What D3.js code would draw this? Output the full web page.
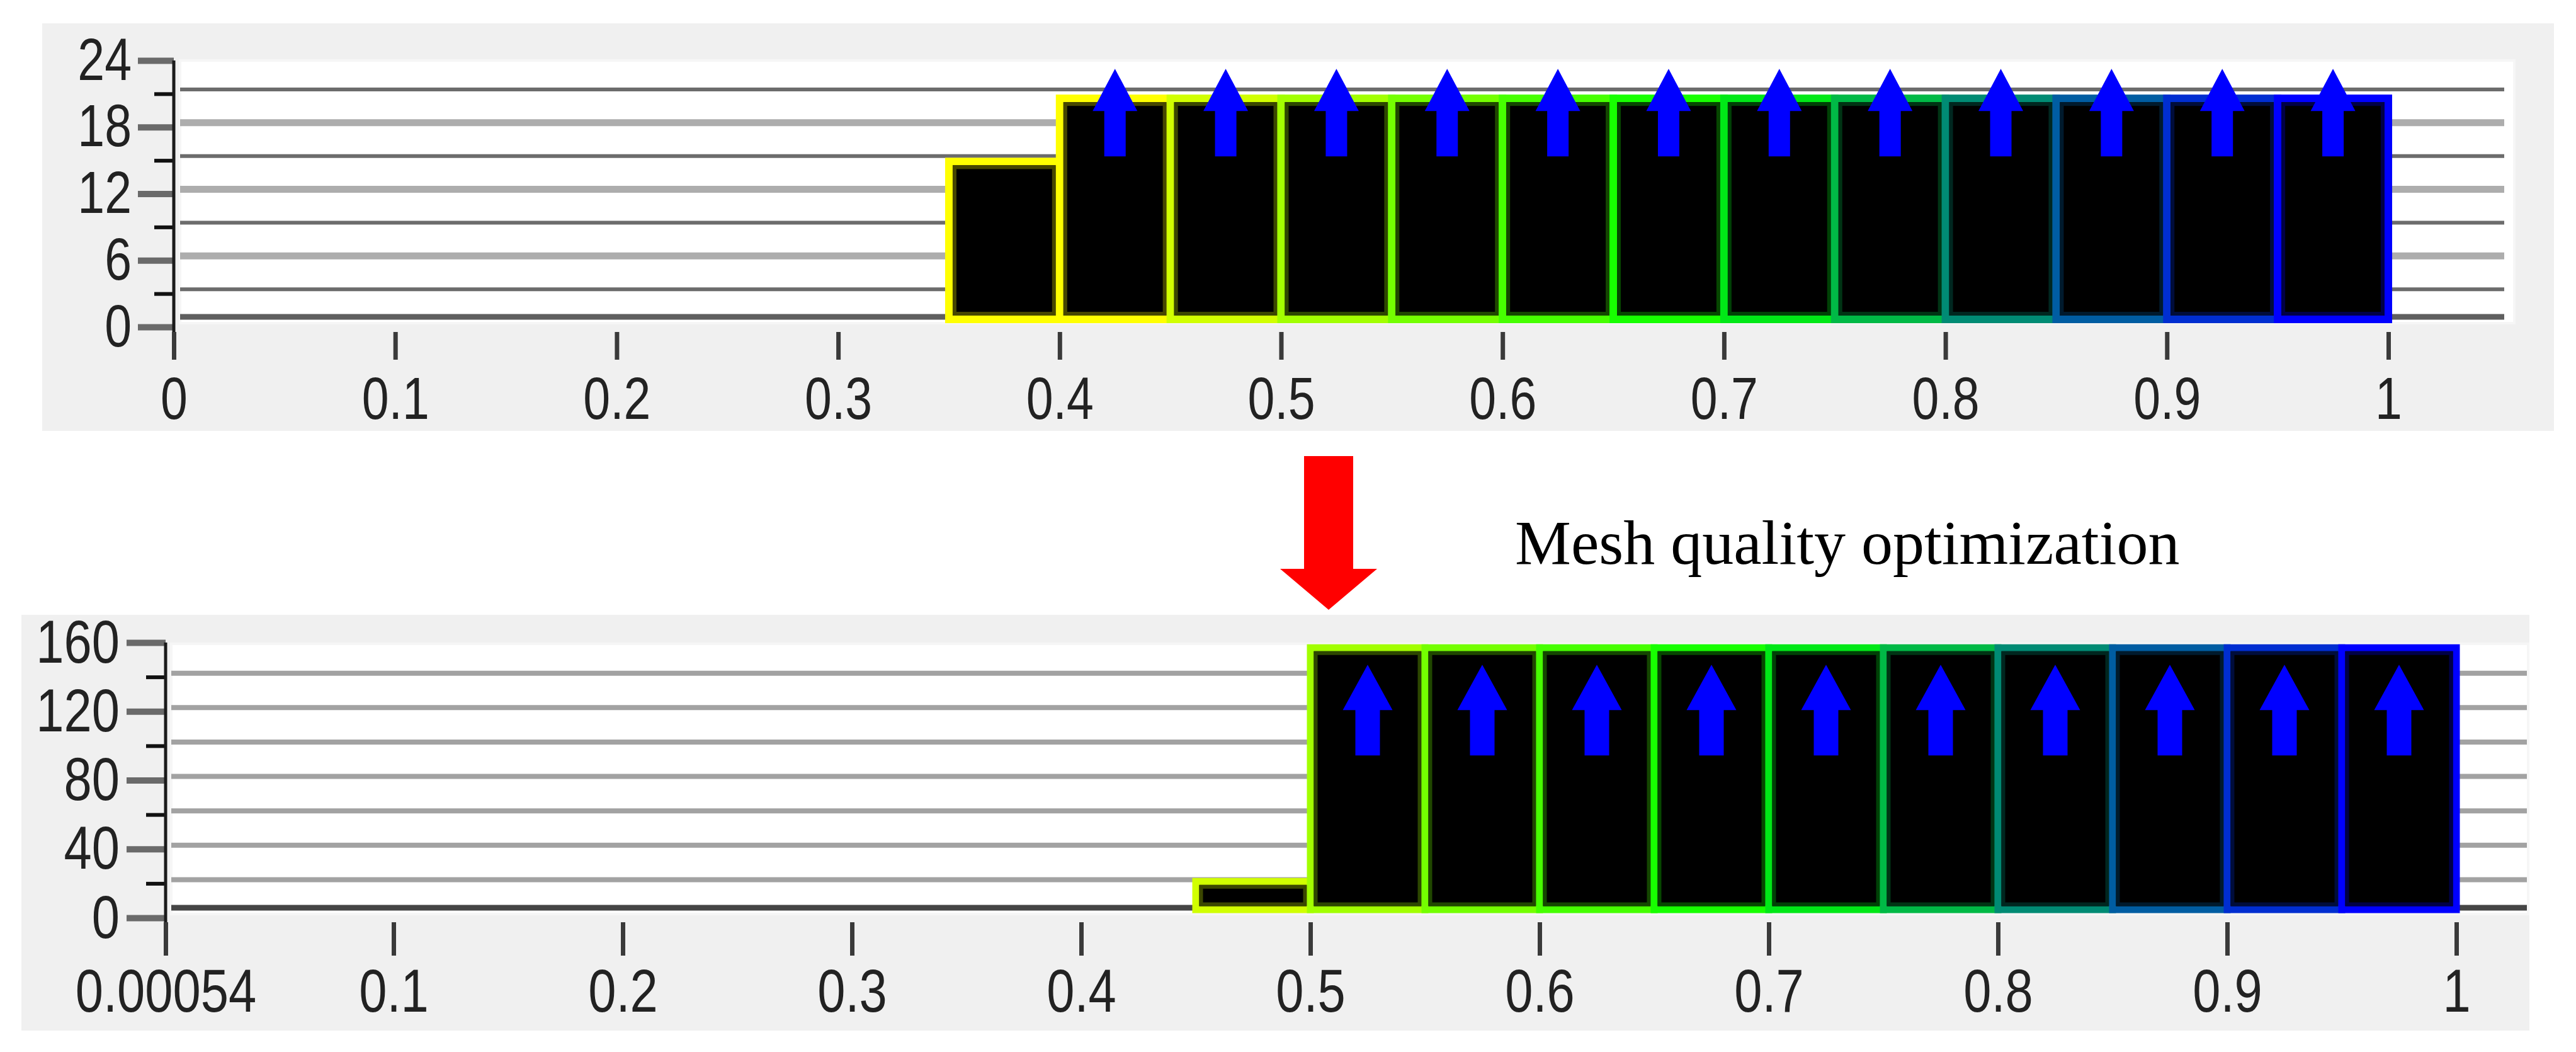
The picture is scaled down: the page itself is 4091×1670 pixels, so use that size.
<!DOCTYPE html>
<html>
<head>
<meta charset="utf-8">
<script src="https://cdnjs.cloudflare.com/ajax/libs/d3/7.8.5/d3.min.js"></script>
<style>
  body { margin: 0; background: #fff; }
</style>
</head>
<body>
<div id="container"></div>
<script>
// two histograms of mesh quality, before and after optimization

// bins are given by their left edge, all bins are 0.05 wide
var binWidth = 0.05;

// top histogram (before)
var topBins   = [0.35, 0.40, 0.45, 0.50, 0.55, 0.60, 0.65, 0.70, 0.75, 0.80, 0.85, 0.90, 0.95];
var topCounts = [15,   21,   21,   21,   21,   21,   21,   21,   21,   21,   21,   21,   21];
var topArrowBins = [0.40, 0.45, 0.50, 0.55, 0.60, 0.65, 0.70, 0.75, 0.80, 0.85, 0.90, 0.95];
var topYTicks  = [0, 6, 12, 18, 24];
var topYMinor  = [3, 9, 15, 21];
var topXTicks  = [0, 0.1, 0.2, 0.3, 0.4, 0.5, 0.6, 0.7, 0.8, 0.9, 1];
var topXLabels = ["0", "0.1", "0.2", "0.3", "0.4", "0.5", "0.6", "0.7", "0.8", "0.9", "1"];

// bottom histogram (after)
var bottomBins   = [0.45, 0.50, 0.55, 0.60, 0.65, 0.70, 0.75, 0.80, 0.85, 0.90, 0.95];
var bottomCounts = [17,   158,  158,  158,  158,  158,  158,  158,  158,  158,  158];
var bottomArrowBins = [0.50, 0.55, 0.60, 0.65, 0.70, 0.75, 0.80, 0.85, 0.90, 0.95];
var bottomYTicks  = [0, 40, 80, 120, 160];
var bottomYMinor  = [20, 60, 100, 140];
var bottomXTicks  = [0.00054, 0.1, 0.2, 0.3, 0.4, 0.5, 0.6, 0.7, 0.8, 0.9, 1];
var bottomXLabels = ["0.00054", "0.1", "0.2", "0.3", "0.4", "0.5", "0.6", "0.7", "0.8", "0.9", "1"];

var annotation = "Mesh quality optimization";

var svg = d3.select("#container").append("svg")
    .attr("width", 4091)
    .attr("height", 1670);

// quality colour map: yellow -> green -> blue
var colour = d3.scaleLinear()
    .domain([0.4, 0.675, 0.95])
    .range(["#ffff00", "#00ff00", "#0000ff"])
    .clamp(true);

var squeeze = 0.82;   // the GUI font is a narrow sans

var panels = [
  {
    bins: topBins, counts: topCounts, arrows: topArrowBins,
    yTicks: topYTicks, yMinor: topYMinor, xTicks: topXTicks, xLabels: topXLabels, yMax: 24,
    grid: [
      {values: [3, 9, 15, 21], stroke: "#6c6c6c", width: 6},
      {values: [6, 12, 18],    stroke: "#adadad", width: 11}
    ],
    bg: [67, 37, 4056, 684], plot: [286, 96, 3993, 513], gridEnd: 3977,
    xRange: [276, 3793], axisRange: [519, 96], barRange: [507, 106], barStroke: 12,
    gridShift: -7, baseline: 503, baseStroke: "#5f5f5f",
    axisX: 276, axisEnd: 571, yTickLen: 57, yMinorLen: 31, yPad: 10,
    xAxisY: 527, xTickLen: 44, xPad: 27, fontSize: 94,
    arrow: {tip: -47, head: 20, end: 92, hw: 35.5, sw: 17}
  },
  {
    bins: bottomBins, counts: bottomCounts, arrows: bottomArrowBins,
    yTicks: bottomYTicks, yMinor: bottomYMinor, xTicks: bottomXTicks, xLabels: bottomXLabels, yMax: 160,
    grid: [
      {values: [20, 40, 60, 80, 100, 120, 140], stroke: "#a2a2a2", width: 8}
    ],
    bg: [34, 976, 4017, 1636], plot: [272, 1022, 4015, 1451], gridEnd: 4013,
    xRange: [261, 3901], axisRange: [1457, 1020], barRange: [1444, 1023], barStroke: 11,
    gridShift: -6, baseline: 1441, baseStroke: "#454545",
    axisX: 263, axisEnd: 1517, yTickLen: 62, yMinorLen: 31, yPad: 11,
    xAxisY: 1464, xTickLen: 53, xPad: 20, fontSize: 97,
    arrow: {tip: 27, head: 99, end: 171, hw: 39.5, sw: 19.5}
  }
];

function arrowPath(cx, tip, head, end, hw, sw) {
  return "M" + cx + "," + tip +
         "L" + (cx + hw) + "," + head +
         "L" + (cx + sw) + "," + head +
         "L" + (cx + sw) + "," + end +
         "L" + (cx - sw) + "," + end +
         "L" + (cx - sw) + "," + head +
         "L" + (cx - hw) + "," + head + "Z";
}

panels.forEach(function(p) {
  var g = svg.append("g");

  // grey panel and white plot area
  g.append("rect")
      .attr("x", p.bg[0]).attr("y", p.bg[1])
      .attr("width", p.bg[2] - p.bg[0]).attr("height", p.bg[3] - p.bg[1])
      .attr("fill", "#f0f0f0");
  g.append("rect")
      .attr("x", p.plot[0]).attr("y", p.plot[1])
      .attr("width", p.plot[2] - p.plot[0]).attr("height", p.plot[3] - p.plot[1])
      .attr("fill", "#ffffff")
      .attr("stroke", "#f6f6f6")
      .attr("stroke-width", 4);

  var x = d3.scaleLinear().domain([0, 1]).range(p.xRange);
  var yAxisScale = d3.scaleLinear().domain([0, p.yMax]).range(p.axisRange);
  var yBar = d3.scaleLinear().domain([0, p.yMax]).range(p.barRange);

  // gridlines
  p.grid.forEach(function(gr) {
    g.selectAll(null)
        .data(gr.values)
      .enter().append("line")
        .attr("x1", p.plot[0]).attr("x2", p.gridEnd)
        .attr("y1", function(d) { return yAxisScale(d) + p.gridShift; })
        .attr("y2", function(d) { return yAxisScale(d) + p.gridShift; })
        .attr("stroke", gr.stroke)
        .attr("stroke-width", gr.width);
  });
  g.append("line")
      .attr("x1", p.plot[0]).attr("x2", p.gridEnd)
      .attr("y1", p.baseline).attr("y2", p.baseline)
      .attr("stroke", p.baseStroke)
      .attr("stroke-width", 9);

  // bars: black fill, coloured outline with a dark inner rim
  var binData = d3.zip(p.bins, p.counts);
  var inset = p.barStroke / 2 + 3;
  var bars = g.selectAll(".bar")
      .data(binData)
    .enter().append("g")
      .attr("class", "bar");

  bars.append("rect")
      .attr("x", function(d) { return x(d[0]); })
      .attr("width", function(d) { return x(d[0] + binWidth) - x(d[0]); })
      .attr("y", function(d) { return yBar(d[1]); })
      .attr("height", function(d) { return yBar(0) - yBar(d[1]); })
      .attr("fill", "#000")
      .attr("stroke", function(d) { return colour(d[0]); })
      .attr("stroke-width", p.barStroke);

  bars.append("rect")
      .attr("x", function(d) { return x(d[0]) + inset; })
      .attr("width", function(d) { return x(d[0] + binWidth) - x(d[0]) - 2 * inset; })
      .attr("y", function(d) { return yBar(d[1]) + inset; })
      .attr("height", function(d) { return Math.max(0, yBar(0) - yBar(d[1]) - 2 * inset); })
      .attr("fill", "none")
      .attr("stroke", function(d) { return d3.interpolateRgb(colour(d[0]), "#000")(0.72); })
      .attr("stroke-width", 6);

  // blue "improved" arrows inside the bins
  g.selectAll(".up")
      .data(p.arrows)
    .enter().append("path")
      .attr("class", "up")
      .attr("fill", "#0000ff")
      .attr("d", function(b) {
        var c = p.counts[p.bins.indexOf(b)];
        var cx = x(b + binWidth / 2), top = yBar(c);
        return arrowPath(cx, top + p.arrow.tip, top + p.arrow.head, top + p.arrow.end, p.arrow.hw, p.arrow.sw);
      });

  // y axis: major ticks with labels, minor ticks without
  var font = "'Liberation Sans', Arial, sans-serif";
  g.append("g")
      .attr("transform", "translate(" + p.axisX + ",0)")
      .call(d3.axisLeft(yAxisScale).tickValues(p.yTicks).tickSize(p.yTickLen).tickPadding(p.yPad))
      .call(function(a) { a.select(".domain").remove(); })
      .call(function(a) { a.selectAll(".tick line").attr("stroke", "#6a6a6a").attr("stroke-width", 10); })
      .call(function(a) {
        a.selectAll(".tick text")
            .attr("font-family", font)
            .attr("font-size", p.fontSize)
            .attr("fill", "#222")
            .attr("x", -(p.yTickLen + p.yPad) / squeeze)
            .attr("transform", "scale(" + squeeze + ",1)");
      });

  g.append("g")
      .attr("transform", "translate(" + p.axisX + ",0)")
      .call(d3.axisLeft(yAxisScale).tickValues(p.yMinor).tickSize(p.yMinorLen).tickFormat(""))
      .call(function(a) { a.select(".domain").remove(); })
      .call(function(a) { a.selectAll(".tick line").attr("stroke", "#111").attr("stroke-width", 6); });

  g.append("line")
      .attr("x1", p.axisX).attr("x2", p.axisX)
      .attr("y1", yAxisScale(p.yMax)).attr("y2", p.axisEnd)
      .attr("stroke", "#1a1a1a")
      .attr("stroke-width", 5);

  // x axis: ticks and labels only
  g.append("g")
      .attr("transform", "translate(0," + p.xAxisY + ")")
      .call(d3.axisBottom(x).tickValues(p.xTicks).tickSize(p.xTickLen).tickPadding(p.xPad)
              .tickFormat(function(d, i) { return p.xLabels[i]; }))
      .call(function(a) { a.select(".domain").remove(); })
      .call(function(a) { a.selectAll(".tick line").attr("stroke", "#3a3a3a").attr("stroke-width", 7); })
      .call(function(a) {
        a.selectAll(".tick text")
            .attr("font-family", font)
            .attr("font-size", p.fontSize)
            .attr("fill", "#222")
            .attr("transform", "scale(" + squeeze + ",1)");
      });
});

// red arrow between the two charts and its caption
svg.append("path")
    .attr("fill", "#ff0000")
    .attr("d", arrowPath(2110, 968, 903, 724, 77, 39));

svg.append("text")
    .attr("x", 2406)
    .attr("y", 895)
    .attr("font-family", "'Liberation Serif', 'Times New Roman', serif")
    .attr("font-size", 100)
    .attr("fill", "#000")
    .text(annotation);
</script>
</body>
</html>
